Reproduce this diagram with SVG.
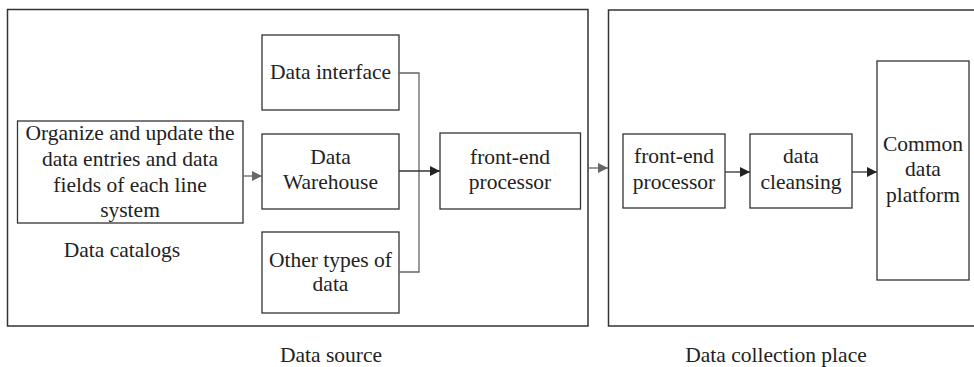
<svg xmlns="http://www.w3.org/2000/svg" width="974" height="367" viewBox="0 0 974 367">
<defs>
<marker id="ah" viewBox="0 0 10 10" refX="10" refY="5" markerWidth="10" markerHeight="10" markerUnits="userSpaceOnUse" orient="auto"><path d="M0,0 L10,5 L0,10 z" fill="#222"/></marker>
<marker id="ahg" viewBox="0 0 10 10" refX="10" refY="5" markerWidth="10" markerHeight="10" markerUnits="userSpaceOnUse" orient="auto"><path d="M0,0 L10,5 L0,10 z" fill="#666"/></marker>
</defs>
<style>
rect{fill:#fff;stroke:#333;stroke-width:1.3}
.outer{fill:none;stroke:#333;stroke-width:1.5}
text{font-family:"Liberation Serif","Times New Roman",serif;font-size:21.5px;fill:#222;text-anchor:middle}
.c{fill:none;stroke:#333;stroke-width:1.3}
.g{fill:none;stroke:#666;stroke-width:1.3}
</style>
<rect x="0" y="0" width="974" height="367" style="fill:#fff;stroke:none"/>
<g id="source-area">
<rect class="outer" x="7.5" y="9.5" width="580.5" height="316.5"/>
<text x="331" y="362">Data source</text>
</g>
<g id="collection-area">
<path class="outer" d="M975,10 H608.5 V326 H975"/>
<text x="776" y="362">Data collection place</text>
</g>
<g id="organize">
<rect x="17.5" y="121" width="225.5" height="102"/>
<text x="130" y="140">Organize and update the</text>
<text x="130" y="166">data entries and data</text>
<text x="130" y="192">fields of each line</text>
<text x="130" y="217">system</text>
</g>
<g id="data-catalogs">
<text x="122" y="257">Data catalogs</text>
</g>
<g id="data-interface">
<rect x="262" y="35" width="137" height="75"/>
<text x="330.5" y="79">Data interface</text>
</g>
<g id="data-warehouse">
<rect x="262" y="134" width="137" height="75"/>
<text x="330.5" y="164">Data</text>
<text x="330.5" y="189">Warehouse</text>
</g>
<g id="other-types">
<rect x="262" y="232" width="137" height="81"/>
<text x="330.5" y="267">Other types of</text>
<text x="330.5" y="291">data</text>
</g>
<g id="fep-left">
<rect x="440" y="133" width="140.5" height="76"/>
<text x="510" y="164">front-end</text>
<text x="510" y="189">processor</text>
</g>
<g id="fep-right">
<rect x="623" y="134" width="102" height="74"/>
<text x="674" y="163">front-end</text>
<text x="674" y="189">processor</text>
</g>
<g id="data-cleansing">
<rect x="750" y="134" width="102" height="74"/>
<text x="801" y="163">data</text>
<text x="801" y="189">cleansing</text>
</g>
<g id="common-platform">
<rect x="877" y="61" width="92" height="219"/>
<text x="923" y="151">Common</text>
<text x="923" y="176">data</text>
<text x="923" y="202">platform</text>
</g>
<g id="connectors">
<path class="g" d="M243,176 H262" marker-end="url(#ahg)"/>
<path class="g" d="M399,73 H419 V272 H399"/>
<path class="c" d="M399,171 H440" marker-end="url(#ah)"/>
<path class="g" d="M588,168 H608" marker-end="url(#ahg)"/>
<path class="c" d="M725,172 H750" marker-end="url(#ah)"/>
<path class="c" d="M852,172 H877" marker-end="url(#ah)"/>
</g>
</svg>
